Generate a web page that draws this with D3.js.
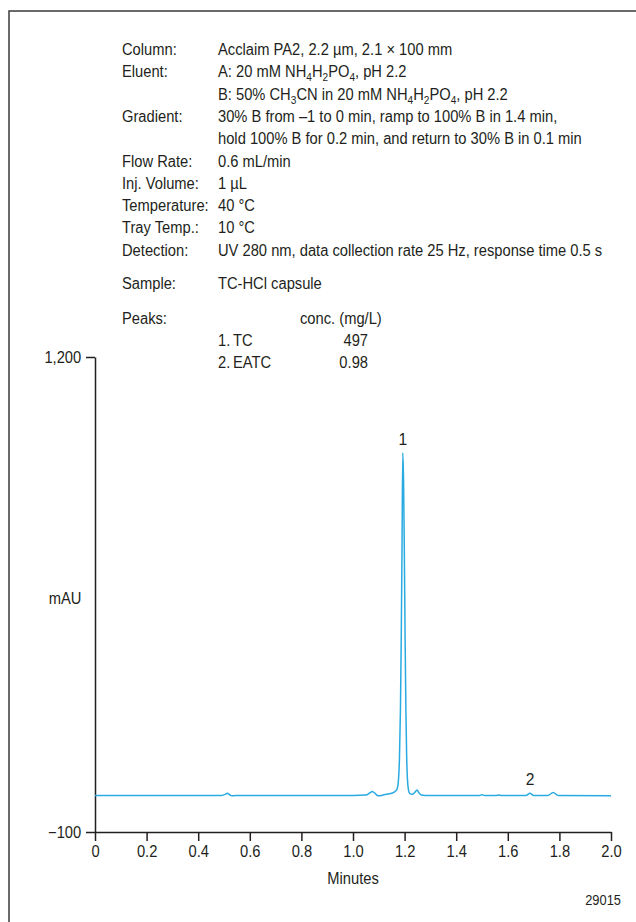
<!DOCTYPE html>
<html>
<head>
<meta charset="utf-8">
<script src="https://cdn.jsdelivr.net/npm/d3@7"></script>
<style>
  body { margin: 0; background: #fff; }
  svg text { font-family: "Liberation Sans", Arial, sans-serif; fill: #231f20; }
</style>
</head>
<body>
<div id="chart"></div>
<script>
// ---- data ----
// info block: [label, text]; {n} marks a subscript
const infoRows = [
    ["Column:", "Acclaim PA2, 2.2 µm, 2.1 × 100 mm"],
    ["Eluent:", "A: 20 mM NH{4}H{2}PO{4}, pH 2.2"],
    ["", "B: 50% CH{3}CN in 20 mM NH{4}H{2}PO{4}, pH 2.2"],
    ["Gradient:", "30% B from –1 to 0 min, ramp to 100% B in 1.4 min,"],
    ["", "hold 100% B for 0.2 min, and return to 30% B in 0.1 min"],
    ["Flow Rate:", "0.6 mL/min"],
    ["Inj. Volume:", "1 µL"],
    ["Temperature:", "40 °C"],
    ["Tray Temp.:", "10 °C"],
    ["Detection:", "UV 280 nm, data collection rate 25 Hz, response time 0.5 s"],
    ["Sample:", "TC-HCl capsule"]
];
const peakNames = ["TC", "EATC"];
const peakConc = ["497", "0.98"];
const peakTimes = [1.193, 1.686];
const peakHeights = [938, 6];

const xTicks = [0, 0.2, 0.4, 0.6, 0.8, 1.0, 1.2, 1.4, 1.6, 1.8, 2.0];
const yTicks = [-100, 1200];

// chromatogram trace: time (min) and absorbance (mAU)
const traceTime = [
    0, 0.3, 0.49, 0.505, 0.513, 0.522, 0.53, 0.545, 0.8, 1.0,
    1.05, 1.065, 1.075, 1.085, 1.092, 1.10, 1.12, 1.15, 1.165, 1.172,
    1.176, 1.180, 1.184, 1.187, 1.190, 1.193, 1.196, 1.199, 1.202, 1.205,
    1.208, 1.211, 1.215, 1.22, 1.23, 1.24, 1.248, 1.256, 1.265, 1.28,
    1.49, 1.50, 1.51, 1.555, 1.565, 1.575, 1.67, 1.686, 1.70, 1.755,
    1.776, 1.795, 2.0
];
const traceValue = [
    0, 0, 0, 3, 6, 2, -1, 0, 0, 0,
    1, 7, 11, 6, 1, -1, 2, 6, 12, 20,
    40, 100, 240, 430, 680, 938, 860, 663, 430, 234,
    107, 45, 15, 5, 3, 9, 15, 7, 1, 0,
    0, 2, 0, 0, 1.5, 0, 0, 6, 0, 0,
    8, 0, -1
];

// ---- layout ----
const width = 636, height = 922;
const squeeze = 0.92;   // the reference uses a condensed face
const svg = d3.select("#chart").append("svg")
    .attr("width", width)
    .attr("height", height);

// outer frame (runs off the page to the right and bottom)
svg.append("rect")
    .attr("x", 9).attr("y", 11)
    .attr("width", 700).attr("height", 1000)
    .attr("fill", "none")
    .attr("stroke", "#3a3a3a")
    .attr("stroke-width", 1.5);

// condensed text placed at (x, y)
function addText(parent, x, y, size, anchor) {
    return parent.append("text")
        .attr("transform", `translate(${x},${y}) scale(${squeeze},1)`)
        .attr("font-size", size)
        .attr("text-anchor", anchor || "start");
}

// write text with {n} subscripts into a text element
function richText(sel, str) {
    let afterSub = false;
    str.split(/(\{[^}]*\})/).filter(s => s.length).forEach(part => {
        if (part[0] === "{") {
            sel.append("tspan").attr("font-size", 11).attr("dy", 4).text(part.slice(1, -1));
            afterSub = true;
        } else {
            sel.append("tspan").attr("dy", afterSub ? -4 : 0).text(part);
            afterSub = false;
        }
    });
}

const info = svg.append("g");
const labelX = 122, textX = 218, lineStep = 22.3;
let y = 55;
infoRows.forEach(row => {
    if (row[0] === "Sample:") y += 11;
    if (row[0]) addText(info, labelX, y, 16).text(row[0]);
    richText(addText(info, textX, y, 16), row[1]);
    y += lineStep;
});

// peaks table
y += 13;
addText(info, labelX, y, 16).text("Peaks:");
addText(info, 300, y, 16).text("conc. (mg/L)");
peakNames.forEach((name, i) => {
    const yy = y + 22 + i * 21.5;
    addText(info, textX, yy, 16).text((i + 1) + ".");
    addText(info, 233, yy, 16).text(name);
    addText(info, 368, yy, 16, "end").text(peakConc[i]);
});

// ---- chart ----
const x = d3.scaleLinear().domain([0, 2.0]).range([95, 611]);
const yScale = d3.scaleLinear().domain([-100, 1200]).range([832, 357]);

const xAxis = svg.append("g")
    .attr("transform", `translate(0,${yScale(-100)})`)
    .call(d3.axisBottom(x)
        .tickValues(xTicks)
        .tickSize(9)
        .tickSizeOuter(0)
        .tickPadding(5)
        .tickFormat(d => d === 0 ? "0" : d3.format(".1f")(d)));

const yAxis = svg.append("g")
    .attr("transform", `translate(${x(0)},0)`)
    .call(d3.axisLeft(yScale)
        .tickValues(yTicks)
        .tickSize(9)
        .tickSizeOuter(0)
        .tickPadding(6)
        .tickFormat(d3.format(",")));

[xAxis, yAxis].forEach(ax => {
    ax.selectAll("path, line").attr("stroke", "#231f20").attr("stroke-width", 1.5);
    ax.selectAll("text")
        .attr("font-size", 16)
        .attr("font-family", "Liberation Sans, Arial, sans-serif")
        .attr("fill", "#231f20")
        .attr("transform", `scale(${squeeze},1)`);
});

addText(svg, 65, 604, 16, "middle").text("mAU");
addText(svg, x(1.0), 884, 16, "middle").text("Minutes");
addText(svg, 621, 905, 14, "end").text("29015");

// trace
const trace = traceTime.map((t, i) => ({t: t, v: traceValue[i]}));
svg.append("path")
    .datum(trace)
    .attr("fill", "none")
    .attr("stroke", "#29abe2")
    .attr("stroke-width", 1.5)
    .attr("d", d3.line()
        .x(d => x(d.t))
        .y(d => yScale(d.v))
        .curve(d3.curveMonotoneX));

// peak numbers
svg.selectAll(".peak-label")
    .data(peakTimes)
    .enter().append("text")
    .attr("class", "peak-label")
    .attr("transform", (d, i) => `translate(${x(d)},${yScale(peakHeights[i]) - 8}) scale(${squeeze},1)`)
    .attr("text-anchor", "middle")
    .attr("font-size", 17)
    .text((d, i) => i + 1);
</script>
</body>
</html>
